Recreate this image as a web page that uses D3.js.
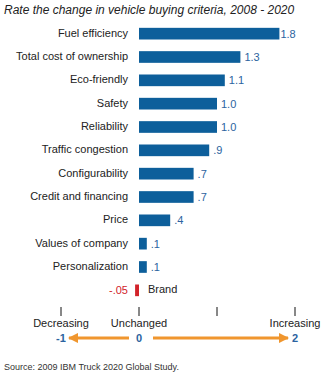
<!DOCTYPE html>
<html>
<head>
<meta charset="utf-8">
<script src="https://cdn.jsdelivr.net/npm/d3@7"></script>
<style>
  body { margin: 0; background: #fff; }
  text { font-family: "Liberation Sans", Arial, sans-serif; }
</style>
</head>
<body>
<div id="chart"></div>
<script>
var svgWidth = 325;
var svgHeight = 375;

// criteria and their rated change
var criteria = ["Fuel efficiency", "Total cost of ownership", "Eco-friendly", "Safety",
  "Reliability", "Traffic congestion", "Configurability", "Credit and financing",
  "Price", "Values of company", "Personalization", "Brand"];
var changes = [1.8, 1.3, 1.1, 1.0, 1.0, 0.9, 0.7, 0.7, 0.4, 0.1, 0.1, -0.05];
var valueLabels = ["1.8", "1.3", "1.1", "1.0", "1.0", ".9", ".7", ".7", ".4", ".1", ".1", "-.05"];

// bottom scale
var scaleTicks = [-1, 0, 1, 2];
var scaleWords = ["Decreasing", "Unchanged", "", "Increasing"];
var scaleNumbers = ["-1", "0", "", "2"];

var blue = "#0d5f9b";
var labelBlue = "#2b63a0";
var red = "#d2232a";
var orange = "#f0962e";

var svg = d3.select("#chart")
  .append("svg")
  .attr("width", svgWidth)
  .attr("height", svgHeight);

var x = d3.scaleLinear().domain([-1, 2]).range([61, 295]);
var y = d3.scaleBand().domain(criteria).range([22, 302]).paddingInner(0.5).paddingOuter(0.25);

// title
svg.append("text")
  .attr("x", 4)
  .attr("y", 14)
  .style("font-size", "12px")
  .style("font-style", "italic")
  .attr("fill", "#222")
  .text("Rate the change in vehicle buying criteria, 2008 - 2020");

var rows = svg.append("g").selectAll("g")
  .data(criteria)
  .enter()
  .append("g");

rows.append("rect")
  .attr("x", (d, i) => Math.min(x(0), x(changes[i])))
  .attr("y", d => y(d))
  .attr("width", (d, i) => Math.abs(x(changes[i]) - x(0)))
  .attr("height", y.bandwidth())
  .attr("fill", (d, i) => changes[i] < 0 ? red : blue);

// category names: left of the bars, or right of a negative bar
rows.append("text")
  .attr("x", (d, i) => changes[i] < 0 ? x(0) + 9 : 128)
  .attr("y", d => y(d) + y.bandwidth() / 2 + 3)
  .attr("text-anchor", (d, i) => changes[i] < 0 ? "start" : "end")
  .style("font-size", "11px")
  .attr("fill", "#222")
  .text(d => d);

// value labels
rows.append("text")
  .attr("x", (d, i) => changes[i] < 0 ? 128 : x(changes[i]) + (changes[i] >= 1.5 ? 1 : 4))
  .attr("y", d => y(d) + y.bandwidth() / 2 + 4)
  .attr("text-anchor", (d, i) => changes[i] < 0 ? "end" : "start")
  .style("font-size", "11px")
  .attr("fill", (d, i) => changes[i] < 0 ? red : labelBlue)
  .text((d, i) => valueLabels[i]);

// bottom scale: ticks, words and numbers
var scaleG = svg.append("g");

scaleG.selectAll("line")
  .data(scaleTicks)
  .enter()
  .append("line")
  .attr("x1", d => x(d))
  .attr("x2", d => x(d))
  .attr("y1", 307)
  .attr("y2", 316)
  .attr("stroke", "#111")
  .attr("stroke-width", 1);

scaleG.selectAll("text.word")
  .data(scaleTicks)
  .enter()
  .append("text")
  .attr("class", "word")
  .attr("x", d => x(d))
  .attr("y", 327)
  .attr("text-anchor", "middle")
  .style("font-size", "11px")
  .attr("fill", "#222")
  .text((d, i) => scaleWords[i]);

scaleG.selectAll("text.num")
  .data(scaleTicks)
  .enter()
  .append("text")
  .attr("class", "num")
  .attr("x", d => x(d))
  .attr("y", 342)
  .attr("text-anchor", "middle")
  .style("font-size", "11px")
  .style("font-weight", "bold")
  .attr("fill", labelBlue)
  .text((d, i) => scaleNumbers[i]);

// orange arrows out from zero
var defs = svg.append("defs");
defs.append("marker")
  .attr("id", "head")
  .attr("viewBox", "0 0 10 10")
  .attr("refX", 9)
  .attr("refY", 5)
  .attr("markerWidth", 3.5)
  .attr("markerHeight", 3.5)
  .attr("orient", "auto")
  .append("path")
  .attr("d", "M0,0 L10,5 L0,10 Z")
  .attr("fill", orange);

var arrowY = 338;
scaleG.append("line")
  .attr("x1", x(0) - 10)
  .attr("x2", x(-1) + 8)
  .attr("y1", arrowY)
  .attr("y2", arrowY)
  .attr("stroke", orange)
  .attr("stroke-width", 3)
  .attr("marker-end", "url(#head)");

scaleG.append("line")
  .attr("x1", x(0) + 14)
  .attr("x2", x(2) - 7)
  .attr("y1", arrowY)
  .attr("y2", arrowY)
  .attr("stroke", orange)
  .attr("stroke-width", 3)
  .attr("marker-end", "url(#head)");

// source note
svg.append("text")
  .attr("x", 4)
  .attr("y", 370)
  .style("font-size", "9px")
  .attr("fill", "#333")
  .text("Source: 2009 IBM Truck 2020 Global Study.");
</script>
</body>
</html>
